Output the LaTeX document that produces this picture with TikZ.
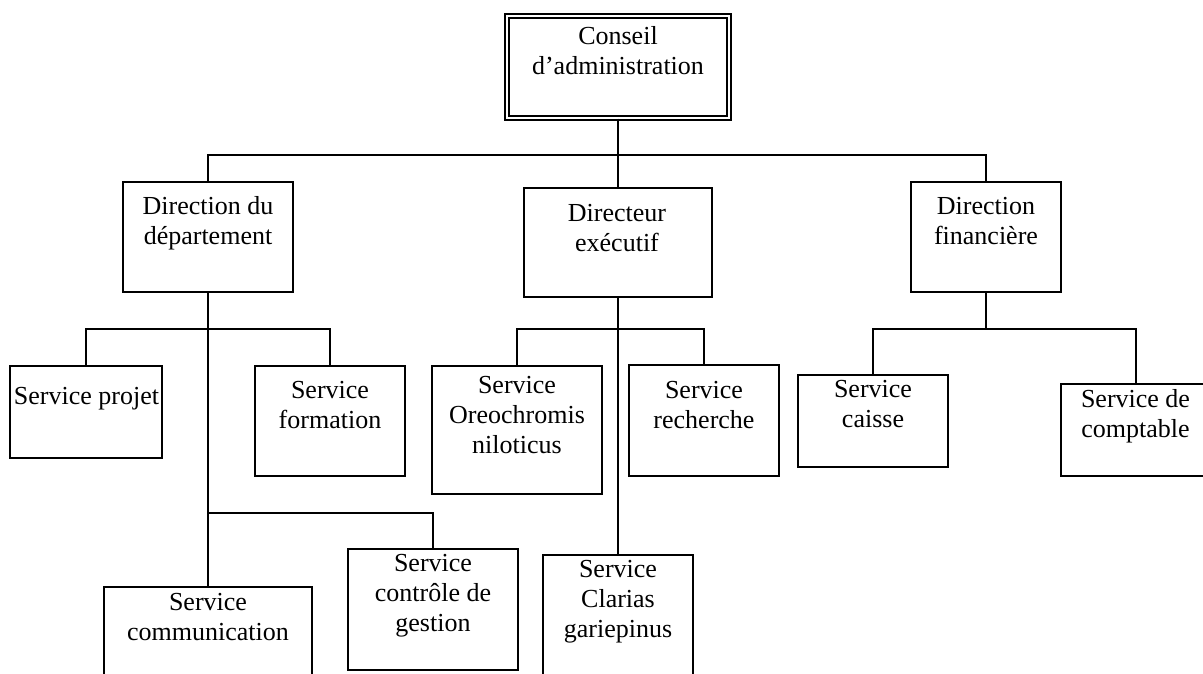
\documentclass[tikz,border=0pt]{standalone}
\usepackage{fontspec}
\setmainfont{Liberation Serif}
\begin{document}
\begin{tikzpicture}[x=1pt,y=-1pt,
  box/.style={draw,rectangle,inner sep=0pt,line width=1.3pt},
  dbox/.style={draw,rectangle,inner sep=0pt,line width=1.2pt,double,double distance=2.8pt},
  txt/.style={align=center,inner sep=0pt,font=\fontsize{26}{30}\selectfont},
  conn/.style={line width=1.3pt}]
\useasboundingbox (0,0) rectangle (1203,673);
\clip (0,0) rectangle (1203,673);
% boxes
\node[dbox,minimum width=222pt,minimum height=102pt] (ca) at (618,67) {};
\node[box,minimum width=170pt,minimum height=110pt] (dd) at (208,237) {};
\node[box,minimum width=188pt,minimum height=109pt] (de) at (618,242.5) {};
\node[box,minimum width=150pt,minimum height=110pt] (df) at (986,237) {};
\node[box,minimum width=152pt,minimum height=92pt] (sp) at (86,412) {};
\node[box,minimum width=150pt,minimum height=110pt] (sf) at (330,421) {};
\node[box,minimum width=170pt,minimum height=128pt] (so) at (517,430) {};
\node[box,minimum width=150pt,minimum height=111pt] (sr) at (704,420.5) {};
\node[box,minimum width=150pt,minimum height=92pt] (sc) at (873,421) {};
\node[box,minimum width=150pt,minimum height=92pt] (sdc) at (1136,430) {};
\node[box,minimum width=170pt,minimum height=121pt] (scg) at (433,609.5) {};
\node[box,minimum width=208pt,minimum height=110pt] (scom) at (208,642) {};
\node[box,minimum width=150pt,minimum height=128pt] (scl) at (618,619) {};
% texts (anchored at the baseline of the last line)
\node[txt,anchor=base] (ca-t) at (618,74) {Conseil\\d’administration};
\node[txt,anchor=base] (dd-t) at (208,244) {Direction du\\département};
\node[txt,anchor=base] (de-t) at (617,251) {Directeur\\exécutif};
\node[txt,anchor=base] (df-t) at (986,244) {Direction\\financière};
\node[txt,anchor=base] (sp-t) at (86.5,404) {Service projet};
\node[txt,anchor=base] (sf-t) at (330,428) {Service\\formation};
\node[txt,anchor=base] (so-t) at (517,453) {Service\\Oreochromis\\niloticus};
\node[txt,anchor=base] (sr-t) at (704,428) {Service\\recherche};
\node[txt,anchor=base] (sc-t) at (873,427) {Service\\caisse};
\node[txt,anchor=base] (sdc-t) at (1135.5,437) {Service de\\comptable};
\node[txt,anchor=base] (scom-t) at (208,640) {Service\\communication};
\node[txt,anchor=base] (scg-t) at (433,631) {Service\\contrôle de\\gestion};
\node[txt,anchor=base] (scl-t) at (618,637) {Service\\Clarias\\gariepinus};
% junctions
\coordinate (j0) at (618,155);
\coordinate (j1) at (208,329);
\coordinate (j2) at (208,513);
\coordinate (j3) at (618,329);
\coordinate (j4) at (986,329);
% connectors
\draw[conn] (ca.south) -- (j0);
\draw[conn] (dd.north) |- (j0) -| (df.north);
\draw[conn] (j0) -- (de.north);
\draw[conn] (dd.south) -- (j1) -- (j2) -- (scom.north);
\draw[conn] (sp.north) |- (j1) -| (sf.north);
\draw[conn] (j2) -| (scg.north);
\draw[conn] (de.south) -- (j3) -- (scl.north);
\draw[conn] (so.north) |- (j3) -| (sr.north);
\draw[conn] (df.south) -- (j4);
\draw[conn] (sc.north) |- (j4) -| (sdc.north);
\end{tikzpicture}
\end{document}
